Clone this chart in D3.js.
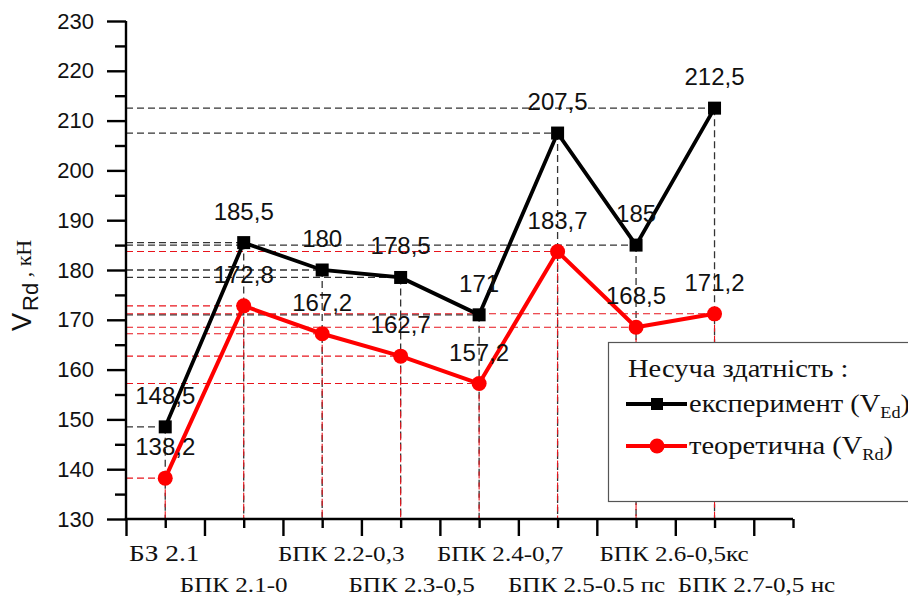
<!DOCTYPE html>
<html>
<head>
<meta charset="utf-8">
<script src="https://cdn.jsdelivr.net/npm/d3@7"></script>
<style>
  html, body { margin: 0; padding: 0; background: #fff; }
  svg { display: block; }
</style>
</head>
<body>
<svg id="chart" width="908" height="600"></svg>
<script>
// Specimen names (two staggered rows of axis labels)
const categories = [
  "БЗ 2.1", "БПК 2.1-0", "БПК 2.2-0,3", "БПК 2.3-0,5",
  "БПК 2.4-0,7", "БПК 2.5-0.5 пс", "БПК 2.6-0,5кс", "БПК 2.7-0,5 нс"
];
// Shear capacity, кН
const experiment  = [148.5, 185.5, 180, 178.5, 171, 207.5, 185, 212.5];   // V_Ed
const theoretical = [138.2, 172.8, 167.2, 162.7, 157.2, 183.7, 168.5, 171.2]; // V_Rd
const yTicks = [130, 140, 150, 160, 170, 180, 190, 200, 210, 220, 230];
// horizontal nudges of the category captions (px)
const labelNudge = [-1, -10, 19, 11, 21, 29, 38, 42];

const fmt = v => String(v).replace(".", ",");

const svg = d3.select("#chart");
const x = d3.scaleLinear().domain([0.5, 9]).range([126, 793]);
const y = d3.scaleLinear().domain([130, 230]).range([519, 21]);
const pos = i => i + 1;

const SANS = "'Liberation Sans', Arial, sans-serif";
const SERIF = "'Liberation Serif', 'Times New Roman', serif";
const WIDE = 1.14; // serif captions are set slightly expanded

// ---- guide lines (dashed drop lines to both axes)
const guides = svg.append("g");
function dropLines(vals, color, width) {
  const g = guides.append("g").attr("stroke", color).attr("stroke-width", width)
    .attr("stroke-dasharray", "7,4").attr("fill", "none");
  g.selectAll("line.h").data(vals).join("line").attr("class", "h")
    .attr("x1", x(0.5)).attr("x2", (d, i) => x(pos(i)))
    .attr("y1", d => y(d)).attr("y2", d => y(d));
  g.selectAll("line.v").data(vals).join("line").attr("class", "v")
    .attr("x1", (d, i) => x(pos(i))).attr("x2", (d, i) => x(pos(i)))
    .attr("y1", d => y(d)).attr("y2", y(130));
}
dropLines(experiment, "#333", 1.3);
dropLines(theoretical, "#e8141c", 1.1);

// ---- axes
const yAxis = d3.axisLeft(y).tickValues(yTicks).tickSize(19).tickFormat(d => d).tickPadding(13);
const gy = svg.append("g").attr("transform", `translate(${x(0.5)},0)`).call(yAxis);
const yMinor = d3.axisLeft(y).tickValues(d3.range(135, 230, 10)).tickSize(11).tickFormat("");
const gym = svg.append("g").attr("transform", `translate(${x(0.5)},0)`).call(yMinor);
const xMajor = d3.axisBottom(x).tickValues(d3.range(0.5, 9, 1)).tickSize(17).tickFormat("");
const gx = svg.append("g").attr("transform", `translate(0,${y(130)})`).call(xMajor);
const xMinor = d3.axisBottom(x).tickValues(d3.range(1, 10, 1)).tickSize(9).tickFormat("");
const gxm = svg.append("g").attr("transform", `translate(0,${y(130)})`).call(xMinor);

[gy, gym, gx, gxm].forEach(g => {
  g.select(".domain").remove();
  g.selectAll(".tick line").attr("stroke", "#000").attr("stroke-width", 2.4);
});
const axisG = svg.append("g").attr("stroke", "#000").attr("stroke-width", 2.4);
axisG.append("line").attr("x1", x(0.5)).attr("x2", x(0.5)).attr("y1", y(230)).attr("y2", y(130) + 1.2);
axisG.append("line").attr("x1", x(0.5) - 1.2).attr("x2", x(9)).attr("y1", y(130)).attr("y2", y(130));

gy.selectAll(".tick text").attr("font-family", SANS).attr("font-size", 22).attr("fill", "#111");

// category captions, staggered in two rows
svg.append("g").selectAll("text").data(categories).join("text")
  .attr("transform", (d, i) =>
    `translate(${x(pos(i)) + labelNudge[i]},${i % 2 === 0 ? 561 : 592}) scale(${WIDE},1)`)
  .attr("text-anchor", "middle")
  .attr("font-family", SERIF)
  .attr("font-size", (d, i) => i === 0 ? 24 : 22)
  .attr("fill", "#111")
  .text(d => d);

// ---- series
const line = d3.line().x((d, i) => x(pos(i))).y(d => y(d));
svg.append("path").datum(experiment).attr("d", line)
  .attr("fill", "none").attr("stroke", "#000").attr("stroke-width", 3.8).attr("stroke-linejoin", "miter");
svg.append("path").datum(theoretical).attr("d", line)
  .attr("fill", "none").attr("stroke", "#ff0000").attr("stroke-width", 4).attr("stroke-linejoin", "round");

svg.append("g").selectAll("rect").data(experiment).join("rect")
  .attr("x", (d, i) => x(pos(i)) - 6.5).attr("y", d => y(d) - 6.5)
  .attr("width", 13).attr("height", 13).attr("fill", "#000");
svg.append("g").selectAll("circle").data(theoretical).join("circle")
  .attr("cx", (d, i) => x(pos(i))).attr("cy", d => y(d)).attr("r", 7.5).attr("fill", "#ff0000");

// value labels above every marker
function valueLabels(vals) {
  svg.append("g").selectAll("text").data(vals).join("text")
    .attr("x", (d, i) => x(pos(i))).attr("y", d => y(d) - 23)
    .attr("text-anchor", "middle").attr("font-family", SANS).attr("font-size", 24)
    .attr("fill", "#111").text(fmt);
}
valueLabels(experiment);
valueLabels(theoretical);

// ---- y axis title: V_Rd , кН
const yt = svg.append("text").attr("transform", "translate(31,331) rotate(-90)")
  .attr("fill", "#111");
yt.append("tspan").attr("font-family", SANS).attr("font-size", 27).text("V");
yt.append("tspan").attr("font-family", SANS).attr("font-size", 22).attr("dx", 2).attr("dy", 7).text("Rd");
yt.append("tspan").attr("font-family", SERIF).attr("font-size", 22).attr("dy", -7).text(" , кН");

// ---- legend
const lg = svg.append("g");
lg.append("rect").attr("x", 608.5).attr("y", 342.5).attr("width", 330).attr("height", 159)
  .attr("fill", "#fff").attr("stroke", "#555").attr("stroke-width", 1.2);
lg.append("text").attr("transform", `translate(628,377) scale(${WIDE},1)`)
  .attr("font-family", SERIF).attr("font-size", 25)
  .attr("fill", "#111").text("Несуча здатність :");
const legendRows = [
  { name: "експеримент", sub: "Ed", color: "#000", shape: "square", yy: 404 },
  { name: "теоретична", sub: "Rd", color: "#ff0000", shape: "circle", yy: 446 }
];
legendRows.forEach(r => {
  lg.append("line").attr("x1", 626).attr("x2", 687).attr("y1", r.yy).attr("y2", r.yy)
    .attr("stroke", r.color).attr("stroke-width", 4);
  if (r.shape === "square") {
    lg.append("rect").attr("x", 651).attr("y", r.yy - 6).attr("width", 12).attr("height", 12).attr("fill", r.color);
  } else {
    lg.append("circle").attr("cx", 657).attr("cy", r.yy).attr("r", 7.5).attr("fill", r.color);
  }
  const t = lg.append("text").attr("transform", `translate(689,${r.yy + 8}) scale(${WIDE},1)`)
    .attr("font-family", SERIF).attr("font-size", 25).attr("fill", "#111");
  t.append("tspan").text(r.name + " (V");
  t.append("tspan").attr("font-size", 16).attr("dy", 6).text(r.sub);
  t.append("tspan").attr("dy", -6).text(")");
});
</script>
</body>
</html>
